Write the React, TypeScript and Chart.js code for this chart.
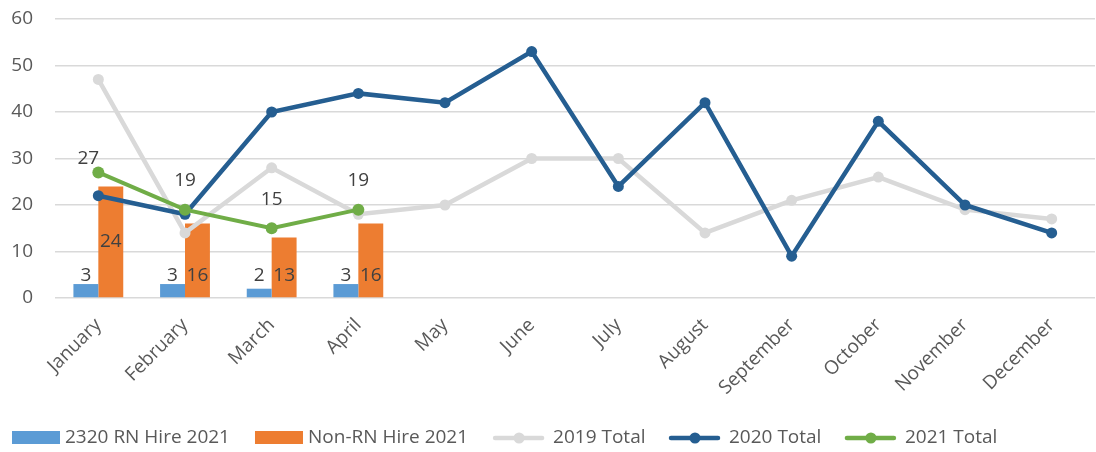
import React, { useEffect, useRef } from "react";
import { Chart, registerables } from "chart.js";

Chart.register(...registerables);

const months = [
  "January", "February", "March", "April", "May", "June",
  "July", "August", "September", "October", "November", "December",
];
const rnHire2021 = [3, 3, 2, 3, null, null, null, null, null, null, null, null];
const nonRnHire2021 = [24, 16, 13, 16, null, null, null, null, null, null, null, null];
const total2019 = [47, 14, 28, 18, 20, 30, 30, 14, 21, 26, 19, 17];
const total2020 = [22, 18, 40, 44, 42, 53, 24, 42, 9, 38, 20, 14];
const total2021 = [27, 19, 15, 19, null, null, null, null, null, null, null, null];
const yMin = 0;
const yMax = 60;
const yStep = 10;

const FONT = "'Open Sans', sans-serif";
const FS = 19;
const TICK_COLOR = "#595959";
const LABEL_COLOR = "#404040";
const C_RN = "#5B9BD5";
const C_NONRN = "#ED7D31";
const C_2019 = "#D9D9D9";
const C_2020 = "#255E91";
const C_2021 = "#70AD47";

const valueLabels = {
  id: "valueLabels",
  afterDatasetsDraw(chart: any) {
    const ctx = chart.ctx;
    const ys = chart.scales.y;
    ctx.save();
    ctx.font = `${FS}px ${FONT}`;
    ctx.fillStyle = LABEL_COLOR;
    ctx.textAlign = "center";
    ctx.textBaseline = "middle";
    [0, 1].forEach((di) => {
      const meta = chart.getDatasetMeta(di);
      meta.data.forEach((el: any, i: number) => {
        const v = chart.data.datasets[di].data[i];
        if (v == null) return;
        const ly = v > 20 ? (el.y + el.base) / 2 : ys.getPixelForValue(0) - 22;
        ctx.fillText(String(v), el.x, ly);
      });
    });
    const gm = chart.getDatasetMeta(4);
    gm.data.forEach((el: any, i: number) => {
      const v = chart.data.datasets[4].data[i];
      if (v == null) return;
      const dx = i === 0 ? -10 : 0;
      const dy = i === 0 ? -14 : -29;
      ctx.fillText(String(v), el.x + dx, el.y + dy);
    });
    ctx.restore();
  },
};

const customLegend = {
  id: "customLegend",
  afterDraw(chart: any) {
    const ctx = chart.ctx;
    ctx.save();
    ctx.font = `${FS}px ${FONT}`;
    ctx.fillStyle = TICK_COLOR;
    ctx.textBaseline = "middle";
    ctx.textAlign = "left";
    const cy = 438;
    let x = 12;
    const items = [
      { kind: "box", color: C_RN, text: "2320 RN Hire 2021" },
      { kind: "box", color: C_NONRN, text: "Non-RN Hire 2021" },
      { kind: "line", color: C_2019, text: "2019 Total" },
      { kind: "line", color: C_2020, text: "2020 Total" },
      { kind: "line", color: C_2021, text: "2021 Total" },
    ];
    items.forEach((it) => {
      if (it.kind === "box") {
        ctx.fillStyle = it.color;
        ctx.fillRect(x, cy - 7, 48, 13);
        x += 48 + 5;
      } else {
        ctx.strokeStyle = it.color;
        ctx.lineWidth = 4.5;
        ctx.lineCap = "round";
        ctx.beginPath();
        ctx.moveTo(x + 2, cy);
        ctx.lineTo(x + 49, cy);
        ctx.stroke();
        ctx.fillStyle = it.color;
        ctx.beginPath();
        ctx.arc(x + 26, cy, 5.5, 0, Math.PI * 2);
        ctx.fill();
        x += 51 + 9;
      }
      ctx.fillStyle = TICK_COLOR;
      ctx.fillText(it.text, x, cy);
      x += ctx.measureText(it.text).width + (it.kind === "box" ? 25 : 23.5);
    });
    ctx.restore();
  },
};

export default function App() {
  const ref = useRef<HTMLCanvasElement | null>(null);
  useEffect(() => {
    if (!ref.current) return;
    const chart = new Chart(ref.current, {
      type: "bar",
      data: {
        labels: months,
        datasets: [
          {
            type: "bar",
            label: "2320 RN Hire 2021",
            data: rnHire2021,
            backgroundColor: C_RN,
            order: 4,
            categoryPercentage: 0.575,
            barPercentage: 1,
          },
          {
            type: "bar",
            label: "Non-RN Hire 2021",
            data: nonRnHire2021,
            backgroundColor: C_NONRN,
            order: 5,
            categoryPercentage: 0.575,
            barPercentage: 1,
          },
          {
            type: "line",
            label: "2019 Total",
            data: total2019,
            borderColor: C_2019,
            backgroundColor: C_2019,
            borderWidth: 4.5,
            pointRadius: 5.5,
            pointBorderWidth: 0,
            pointBackgroundColor: C_2019,
            tension: 0,
            order: 3,
          },
          {
            type: "line",
            label: "2020 Total",
            data: total2020,
            borderColor: C_2020,
            backgroundColor: C_2020,
            borderWidth: 4.5,
            pointRadius: 5.5,
            pointBorderWidth: 0,
            pointBackgroundColor: C_2020,
            tension: 0,
            order: 2,
          },
          {
            type: "line",
            label: "2021 Total",
            data: total2021,
            borderColor: C_2021,
            backgroundColor: C_2021,
            borderWidth: 4,
            pointRadius: 6,
            pointBorderWidth: 0,
            pointBackgroundColor: C_2021,
            tension: 0,
            order: 1,
          },
        ],
      },
      options: {
        responsive: false,
        animation: false,
        layout: { padding: { top: 19, left: 0, right: 0, bottom: 0 } },
        plugins: {
          legend: { display: false },
          tooltip: { enabled: false },
        },
        scales: {
          x: {
            grid: { display: false },
            border: { display: false },
            ticks: {
              color: TICK_COLOR,
              font: { family: FONT, size: FS },
              minRotation: 45,
              maxRotation: 45,
              padding: 8,
              autoSkip: false,
            },
            afterFit(scale: any) {
              scale.height = 154;
            },
          },
          y: {
            min: yMin,
            max: yMax,
            border: { display: false },
            grid: { color: "#D9D9D9", lineWidth: 1.5, drawTicks: false },
            ticks: {
              stepSize: yStep,
              color: TICK_COLOR,
              font: { family: FONT, size: FS },
              padding: 22,
            },
            afterFit(scale: any) {
              scale.width = 55;
              scale.paddingTop = 12;
              scale.paddingBottom = 12;
            },
          },
        },
      },
      plugins: [valueLabels, customLegend],
    });
    return () => chart.destroy();
  }, []);
  return (
    <div style={{ position: "fixed", left: 0, top: 0, width: 1096, height: 452, overflow: "hidden", background: "#fff" }}>
      <canvas ref={ref} width={1101} height={452} style={{ display: "block" }} />
    </div>
  );
}
